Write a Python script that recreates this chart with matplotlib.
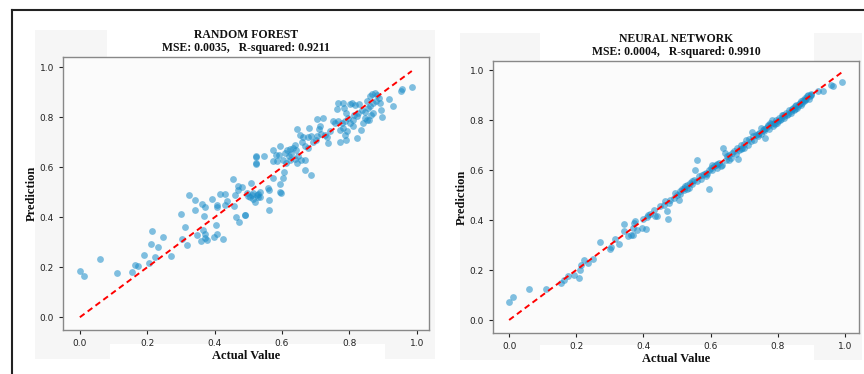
import numpy as np
import matplotlib
matplotlib.use('Agg')
import matplotlib.pyplot as plt
from matplotlib.patches import Rectangle
from matplotlib.lines import Line2D

# Random forest: actual vs predicted
rf_actual = [
    0.000, 0.012, 0.060, 0.109, 0.155, 0.165, 0.173, 0.190, 0.206, 0.212,
    0.213, 0.222, 0.233, 0.248, 0.270, 0.300, 0.312, 0.303, 0.318, 0.325,
    0.343, 0.341, 0.349, 0.362, 0.372, 0.367, 0.366, 0.370, 0.371, 0.359,
    0.378, 0.392, 0.406, 0.407, 0.404, 0.407, 0.398, 0.424, 0.416, 0.430,
    0.432, 0.437, 0.455, 0.458, 0.462, 0.471, 0.489, 0.460, 0.470, 0.470,
    0.480, 0.500, 0.505, 0.510, 0.515, 0.525, 0.530, 0.535, 0.560, 0.560,
    0.595, 0.560, 0.490,
    0.985, 0.957, 0.952, 0.928, 0.918, 0.898, 0.895, 0.890, 0.888, 0.882,
    0.875, 0.868, 0.862, 0.880, 0.870, 0.862, 0.851, 0.856, 0.846, 0.836,
    0.826, 0.816, 0.829, 0.809, 0.801, 0.781, 0.767, 0.762, 0.783, 0.791,
    0.813, 0.823, 0.811, 0.803, 0.796, 0.786, 0.777, 0.767, 0.757, 0.750,
    0.772, 0.781, 0.793, 0.811, 0.833, 0.821, 0.846, 0.851, 0.865, 0.870,
    0.859, 0.841, 0.791, 0.772, 0.786, 0.742, 0.737, 0.734, 0.727, 0.722,
    0.705, 0.712, 0.709, 0.717, 0.704, 0.700, 0.692, 0.687, 0.681, 0.678,
    0.663, 0.658, 0.668, 0.678, 0.687, 0.653, 0.643, 0.638, 0.633, 0.641,
    0.623, 0.615, 0.608, 0.593, 0.592, 0.582, 0.574, 0.574, 0.586, 0.603,
    0.613, 0.625, 0.638, 0.645, 0.655, 0.668, 0.668, 0.546, 0.522, 0.524,
    0.605, 0.603, 0.593, 0.598, 0.574, 0.559, 0.534, 0.529, 0.514, 0.509,
    0.519, 0.495, 0.628, 0.648, 0.621, 0.524, 0.524,
]
rf_pred = [
    0.185, 0.166, 0.232, 0.176, 0.182, 0.208, 0.205, 0.249, 0.216, 0.293,
    0.344, 0.240, 0.281, 0.321, 0.246, 0.413, 0.361, 0.312, 0.290, 0.490,
    0.469, 0.428, 0.330, 0.453, 0.440, 0.406, 0.349, 0.333, 0.316, 0.306,
    0.309, 0.474, 0.442, 0.450, 0.368, 0.332, 0.320, 0.312, 0.492, 0.493,
    0.450, 0.466, 0.553, 0.445, 0.401, 0.380, 0.408, 0.490, 0.510, 0.525,
    0.520, 0.485, 0.480, 0.490, 0.475, 0.490, 0.495, 0.480, 0.468, 0.428,
    0.500, 0.510, 0.408,
    0.922, 0.912, 0.903, 0.845, 0.873, 0.800, 0.829, 0.856, 0.876, 0.889,
    0.896, 0.892, 0.883, 0.863, 0.856, 0.843, 0.863, 0.836, 0.823, 0.829,
    0.816, 0.849, 0.852, 0.856, 0.853, 0.856, 0.856, 0.832, 0.836, 0.816,
    0.809, 0.803, 0.789, 0.776, 0.796, 0.783, 0.776, 0.783, 0.776, 0.783,
    0.749, 0.756, 0.743, 0.763, 0.747, 0.719, 0.796, 0.789, 0.809, 0.819,
    0.787, 0.776, 0.709, 0.703, 0.729, 0.743, 0.696, 0.720, 0.729, 0.796,
    0.792, 0.763, 0.753, 0.733, 0.725, 0.709, 0.703, 0.723, 0.756, 0.720,
    0.720, 0.703, 0.685, 0.676, 0.569, 0.729, 0.753, 0.689, 0.676, 0.669,
    0.672, 0.667, 0.656, 0.683, 0.649, 0.649, 0.669, 0.623, 0.623, 0.629,
    0.616, 0.629, 0.632, 0.616, 0.629, 0.629, 0.589, 0.645, 0.643, 0.613,
    0.583, 0.556, 0.533, 0.499, 0.556, 0.516, 0.503, 0.483, 0.496, 0.536,
    0.463, 0.496, 0.653, 0.645, 0.643, 0.642, 0.615,
]

# Neural network: actual vs predicted
nn_actual = [
    0.000, 0.012, 0.060, 0.109, 0.155, 0.163, 0.176, 0.193, 0.207, 0.211,
    0.214, 0.223, 0.236, 0.249, 0.271, 0.301, 0.304, 0.316, 0.327, 0.343,
    0.342, 0.355, 0.362, 0.368, 0.372, 0.375, 0.370, 0.380, 0.395, 0.407,
    0.400, 0.410, 0.415, 0.420, 0.430, 0.435, 0.440, 0.450, 0.460, 0.465,
    0.470, 0.472, 0.475, 0.480, 0.490, 0.495, 0.500, 0.505, 0.510, 0.515,
    0.520, 0.525, 0.530, 0.535, 0.540, 0.545, 0.550, 0.554, 0.559, 0.560,
    0.565, 0.570, 0.575, 0.580, 0.585, 0.590, 0.594, 0.595, 0.600, 0.605,
    0.610, 0.615, 0.620, 0.625, 0.630, 0.635, 0.638, 0.643, 0.645, 0.650,
    0.655, 0.660, 0.665, 0.670, 0.675, 0.680, 0.682, 0.685, 0.690, 0.695,
    0.700, 0.705, 0.710, 0.715, 0.720, 0.722, 0.725, 0.730, 0.735, 0.740,
    0.745, 0.750, 0.755, 0.760, 0.762, 0.765, 0.770, 0.775, 0.780, 0.782,
    0.785, 0.790, 0.795, 0.800, 0.805, 0.810, 0.815, 0.820, 0.825, 0.830,
    0.835, 0.840, 0.845, 0.850, 0.855, 0.860, 0.865, 0.870, 0.875, 0.880,
    0.885, 0.890, 0.895, 0.900, 0.920, 0.935, 0.960, 0.965, 0.990,
    0.772, 0.778, 0.792, 0.798, 0.808, 0.812, 0.818, 0.828, 0.838, 0.842,
    0.848, 0.852, 0.858, 0.862, 0.868, 0.872, 0.878, 0.882, 0.888, 0.892,
    0.898, 0.750, 0.760, 0.740, 0.700, 0.690, 0.655, 0.620, 0.605, 0.585,
    0.545, 0.530, 0.520, 0.510,
]
nn_pred = [
    0.072, 0.093, 0.123, 0.123, 0.149, 0.160, 0.176, 0.180, 0.169, 0.200,
    0.220, 0.240, 0.227, 0.243, 0.312, 0.285, 0.291, 0.323, 0.305, 0.384,
    0.357, 0.337, 0.340, 0.368, 0.390, 0.395, 0.339, 0.360, 0.370, 0.365,
    0.403, 0.413, 0.420, 0.425, 0.440, 0.415, 0.418, 0.455, 0.460, 0.475,
    0.435, 0.405, 0.470, 0.480, 0.490, 0.510, 0.500, 0.480, 0.515, 0.525,
    0.520, 0.535, 0.540, 0.530, 0.550, 0.545, 0.560, 0.600, 0.640, 0.555,
    0.575, 0.565, 0.580, 0.585, 0.590, 0.585, 0.523, 0.600, 0.610, 0.600,
    0.615, 0.620, 0.625, 0.630, 0.615, 0.620, 0.687, 0.667, 0.640, 0.655,
    0.660, 0.650, 0.670, 0.675, 0.665, 0.690, 0.643, 0.680, 0.700, 0.690,
    0.705, 0.720, 0.700, 0.725, 0.715, 0.753, 0.735, 0.720, 0.740, 0.735,
    0.750, 0.745, 0.760, 0.755, 0.727, 0.770, 0.780, 0.765, 0.785, 0.800,
    0.775, 0.790, 0.800, 0.795, 0.810, 0.805, 0.820, 0.815, 0.830, 0.825,
    0.840, 0.835, 0.850, 0.845, 0.860, 0.855, 0.870, 0.875, 0.880, 0.890,
    0.885, 0.900, 0.895, 0.900, 0.918, 0.918, 0.940, 0.935, 0.953,
    0.775, 0.790, 0.785, 0.790, 0.800, 0.820, 0.810, 0.820, 0.830, 0.845,
    0.840, 0.855, 0.850, 0.865, 0.860, 0.870, 0.875, 0.880, 0.895, 0.885,
    0.905, 0.770, 0.765, 0.745, 0.690, 0.685, 0.640, 0.610, 0.620, 0.575,
    0.555, 0.525, 0.530, 0.505,
]

titles = ['RANDOM FOREST\nMSE: 0.0035,   R-squared: 0.9211',
          'NEURAL NETWORK\nMSE: 0.0004,   R-squared: 0.9910']
ticks = [0.0, 0.2, 0.4, 0.6, 0.8, 1.0]

W, H = 864, 374
fig = plt.figure(figsize=(W / 100, H / 100), dpi=100, facecolor='white')

def px_rect(x0, y0, x1, y1, color):
    # rectangle given in pixel coords (top-left origin)
    fig.add_artist(Rectangle((x0 / W, 1 - y1 / H), (x1 - x0) / W, (y1 - y0) / H,
                             transform=fig.transFigure, facecolor=color,
                             edgecolor='none', zorder=-5))

# light grey panel backgrounds with white strips behind title / xlabel
px_rect(35, 30, 435, 359, '#f6f6f6')
px_rect(107, 25, 380, 57, 'white')
px_rect(110, 344, 385, 374, 'white')
px_rect(460, 33, 862, 360, '#f6f6f6')
px_rect(540, 28, 814, 61, 'white')
px_rect(540, 345, 814, 374, 'white')

# frame lines
fig.add_artist(Line2D([12 / W, 1], [1 - 10 / H, 1 - 10 / H], color='#222222', lw=1.5,
                      transform=fig.transFigure))
fig.add_artist(Line2D([12 / W, 12 / W], [0, 1 - 10 / H], color='#222222', lw=1.5,
                      transform=fig.transFigure))

serif = ['Liberation Serif', 'DejaVu Serif']
axes_pos = [[63 / W, 1 - 330 / H, 366 / W, 273 / H],
            [493 / W, 1 - 333 / H, 366 / W, 272 / H]]
limits = [((-0.050, 1.036), (-0.051, 1.041)),
          ((-0.048, 1.042), (-0.052, 1.036))]
data = [(rf_actual, rf_pred), (nn_actual, nn_pred)]

for i in range(2):
    ax = fig.add_axes(axes_pos[i])
    ax.set_facecolor('#fbfbfb')
    xa, ya = np.array(data[i][0]), np.array(data[i][1])
    ax.scatter(xa, ya, s=24, color='#1a8cc8', alpha=0.55, linewidths=0)
    m = xa.max()
    ax.plot([0, m], [0, m], color='red', ls='--', lw=1.4, dashes=(3, 2))
    ax.set_xlim(*limits[i][0])
    ax.set_ylim(*limits[i][1])
    ax.set_xticks(ticks)
    ax.set_yticks(ticks)
    ax.tick_params(labelsize=6.5, colors='#222222', length=3, width=0.8)
    for sp in ax.spines.values():
        sp.set_color('#888888')
        sp.set_linewidth(1.0)
    ax.set_title(titles[i], fontsize=8.5, fontweight='bold', family=serif,
                 pad=4, linespacing=1.15, color='#111111')
    ax.set_xlabel('Actual Value', fontsize=9, fontweight='bold', family=serif,
                  labelpad=1.5, color='#111111')
    ax.set_ylabel('Prediction', fontsize=9, fontweight='bold', family=serif,
                  labelpad=1.5, color='#111111')

fig.savefig('out.png', dpi=100, facecolor='white')
